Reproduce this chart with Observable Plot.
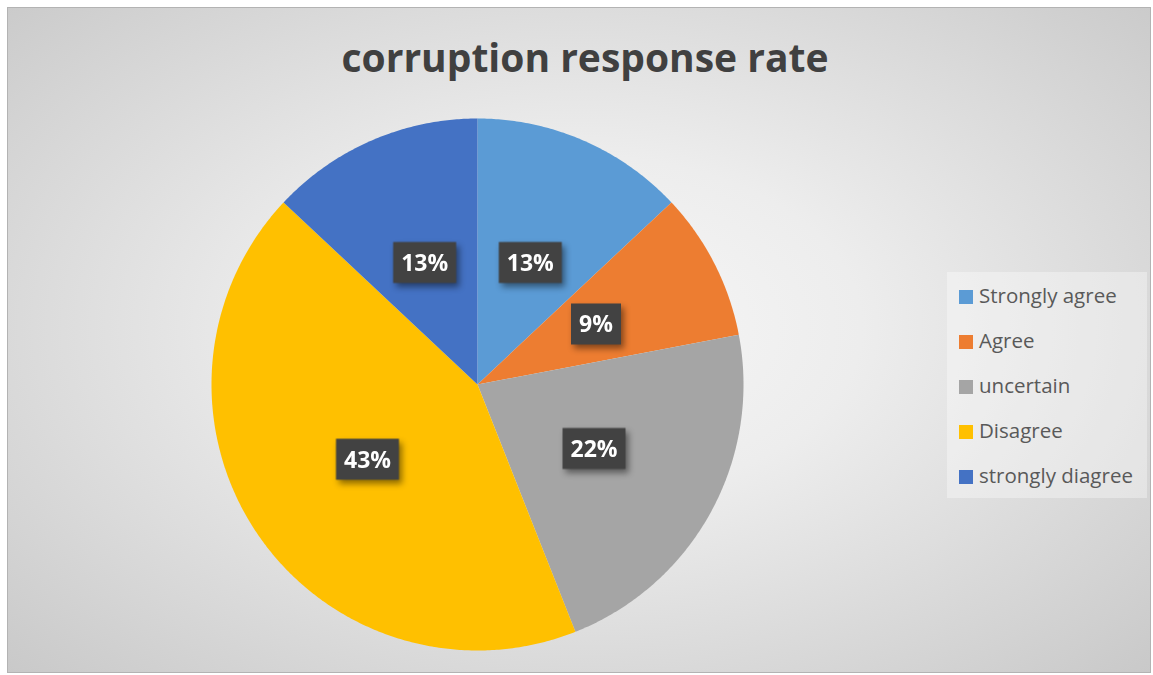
<!DOCTYPE html>
<html>
<head>
<meta charset="utf-8">
<script src="https://cdn.jsdelivr.net/npm/d3@7"></script>
<script src="https://cdn.jsdelivr.net/npm/@observablehq/plot@0.6"></script>
<style>
  html, body { margin: 0; padding: 0; background: #ffffff; }
  #page { position: relative; width: 1153px; height: 675px; overflow: hidden; background: #fff; }
  #frame {
    position: absolute; left: 7px; top: 7px; width: 1142px; height: 664px;
    border: 1px solid #b3b3b3;
    background: radial-gradient(ellipse farthest-corner at 50% 48%, #f7f7f7 0%, #ededed 35%, #c9c9c9 100%);
  }
  #title {
    position: absolute; left: 0; width: 1170px; top: 29px; text-align: center;
    font-family: "Open Sans", sans-serif; font-weight: 700; font-size: 39px; color: #404040;
    line-height: 56px;
  }
  #chart { position: absolute; left: 0; top: 0; }
  #legend {
    position: absolute; left: 947px; top: 272px; width: 200px; height: 226px;
    background: rgba(255,255,255,0.35);
    font-family: "Open Sans", sans-serif; font-size: 20.5px; color: #595959;
  }
  .item { position: absolute; left: 12px; height: 28px; line-height: 28px; white-space: nowrap; }
  .sw { display: inline-block; width: 14px; height: 14px; margin-right: 6px; vertical-align: -1px; }
  .lbl-box { filter: drop-shadow(3px 4px 3px rgba(0,0,0,0.45)); }
</style>
</head>
<body>
<div id="page">
  <div id="frame"></div>
  <div id="title"></div>
  <div id="chart"></div>
  <div id="legend"></div>
</div>
<script>
const titleText = "corruption response rate";
const categories = ["Strongly agree", "Agree", "uncertain", "Disagree", "strongly diagree"];
const values = [13, 9, 22, 43, 13];
const labels = ["13%", "9%", "22%", "43%", "13%"];
const colors = ["#5b9bd5", "#ed7d31", "#a5a5a5", "#ffc000", "#4472c4"];

document.getElementById("title").textContent = titleText;

// Pie geometry from the data
const arcs = d3.pie().sort(null).value(d => d)(values);
const slicePoints = [];
arcs.forEach((a, i) => {
  slicePoints.push({cat: categories[i], x: 0, y: 0});
  const n = Math.max(2, Math.ceil((a.endAngle - a.startAngle) / (Math.PI / 360)));
  for (let k = 0; k <= n; k++) {
    const t = a.startAngle + (a.endAngle - a.startAngle) * k / n;
    slicePoints.push({cat: categories[i], x: Math.sin(t), y: Math.cos(t)});
  }
});
const labelData = arcs.map((a, i) => {
  const m = (a.startAngle + a.endAngle) / 2;
  return {cat: categories[i], label: labels[i], x: 0.5 * Math.sin(m), y: 0.5 * Math.cos(m)};
});

function box(w, h) {
  return { draw(ctx) { ctx.rect(-w / 2, -h / 2, w, h); } };
}

const cx = 477, cy = 384, R = 266;
const chart = Plot.plot({
  width: 1153,
  height: 675,
  margin: 0,
  style: { background: "transparent", overflow: "visible" },
  x: { domain: [-1, 1], range: [cx - R, cx + R], axis: null },
  y: { domain: [-1, 1], range: [cy + R, cy - R], axis: null },
  color: { domain: categories, range: colors },
  marks: [
    Plot.line(slicePoints, { x: "x", y: "y", z: "cat", fill: "cat", stroke: "none", curve: "linear-closed" }),
    Plot.dot(labelData.filter(d => d.label.length >= 3), { x: "x", y: "y", r: 10, symbol: box(63, 41), fill: "#424242", stroke: "none", className: "lbl-box" }),
    Plot.dot(labelData.filter(d => d.label.length < 3), { x: "x", y: "y", r: 10, symbol: box(50, 41), fill: "#424242", stroke: "none", className: "lbl-box" }),
    Plot.text(labelData, { x: "x", y: "y", text: "label", fill: "white", fontSize: 23, fontWeight: 700, fontFamily: "Open Sans, sans-serif", dy: 1 })
  ]
});
document.getElementById("chart").appendChild(chart);

const legend = document.getElementById("legend");
categories.forEach((c, i) => {
  const it = document.createElement("div");
  it.className = "item";
  it.style.top = (9 + 45 * i) + "px";
  const sw = document.createElement("span");
  sw.className = "sw";
  sw.style.background = colors[i];
  it.appendChild(sw);
  it.appendChild(document.createTextNode(c));
  legend.appendChild(it);
});
</script>
</body>
</html>
